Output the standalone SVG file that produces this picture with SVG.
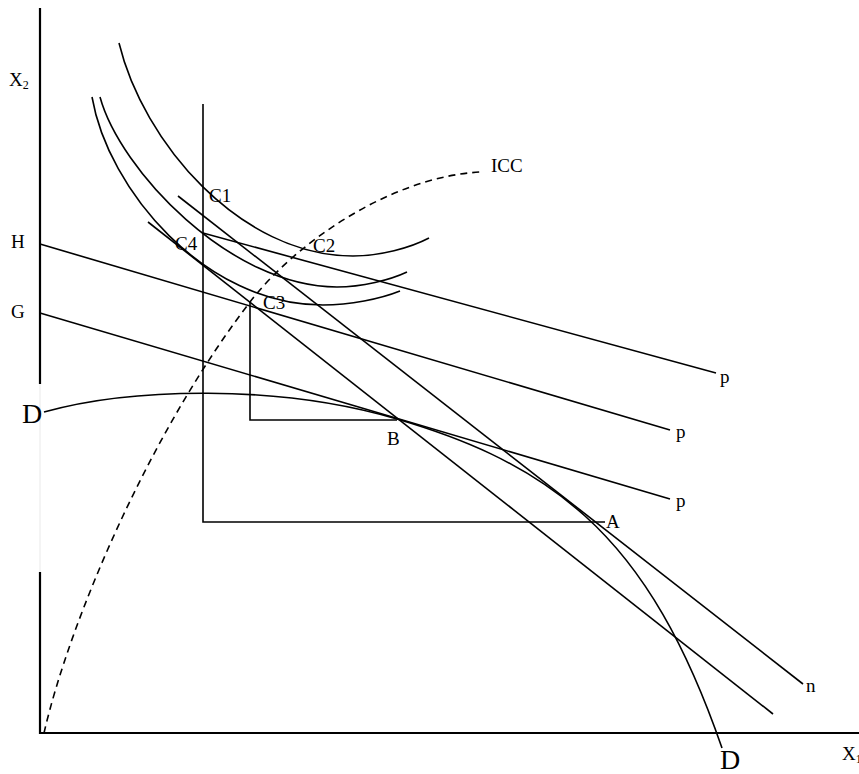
<svg xmlns="http://www.w3.org/2000/svg" width="859" height="774" viewBox="0 0 859 774">
<style>
.ln{fill:none;stroke:#000;stroke-width:1.6}
.ax{fill:none;stroke:#000;stroke-width:2.2}
.dash{fill:none;stroke:#000;stroke-width:1.6;stroke-dasharray:7 5}
.t{font-family:"Liberation Serif","Times New Roman",serif;font-size:19px;fill:#000}
.big{font-family:"Liberation Serif","Times New Roman",serif;font-size:28px;fill:#000}
</style>
<rect width="859" height="774" fill="#fff"/>
<g id="axes">
<line class="ax" x1="40" y1="8" x2="40" y2="384"/>
<line x1="40" y1="384" x2="40" y2="572" stroke="#f0f0f0" stroke-width="1.5"/>
<line class="ax" x1="40" y1="572" x2="40" y2="734"/>
<line class="ax" x1="39" y1="733" x2="859" y2="733"/>
<text class="t" x="9" y="86" font-size="20">X<tspan font-size="12" dy="3">2</tspan></text>
<text class="t" x="842" y="760" font-size="20">X<tspan font-size="12" dy="3">1</tspan></text>
</g>
<g id="connectors">
<polyline class="ln" points="203,104 203,522 605,522"/>
<polyline class="ln" points="250,302 250,420 397,420"/>
<line class="ln" x1="203" y1="233" x2="716" y2="373"/>
<line class="ln" x1="40" y1="244" x2="670" y2="430"/>
<line class="ln" x1="40" y1="313" x2="670" y2="499"/>
<line class="ln" x1="178" y1="196" x2="803" y2="684"/>
<line class="ln" x1="148" y1="222" x2="773" y2="714"/>
</g>
<g id="indifference-curves">
<path id="ic1" class="ln" d="M119,43 C143,142 240,256 353,256 C380,256 410,248 429,238"/>
<path id="ic2" class="ln" d="M100,97 C120,170 230,287 337,287 C362,287 390,280 407,272"/>
<path id="ic3" class="ln" d="M92,97 C108,190 205,305 323,305 C350,305 380,299 400,291"/>
</g>
<g id="transformation-curve">
<path class="ln" d="M44,412 C130,388 277,383.6 397,419 C457,436.7 525,462 585,516 C645,570 687,647 722,748"/>
</g>
<g id="icc">
<path class="dash" d="M44,733 C70,620 150,432 250,302 C295,243.5 390,177 480,172"/>
<text class="t" x="491" y="172">ICC</text>
</g>
<g id="labels">
<text class="t" x="11" y="248">H</text>
<text class="t" x="11" y="318">G</text>
<text class="big" x="22" y="423">D</text>
<text class="big" x="720" y="769" font-size="25">D</text>
<text class="t" x="209" y="202">C1</text>
<text class="t" x="175" y="250">C4</text>
<text class="t" x="313" y="252">C2</text>
<text class="t" x="263" y="309">C3</text>
<text class="t" x="387" y="445">B</text>
<text class="t" x="606" y="528">A</text>
<text class="t" x="720" y="383">p</text>
<text class="t" x="676" y="438">p</text>
<text class="t" x="676" y="507">p</text>
<text class="t" x="806" y="692">n</text>
</g>
</svg>
